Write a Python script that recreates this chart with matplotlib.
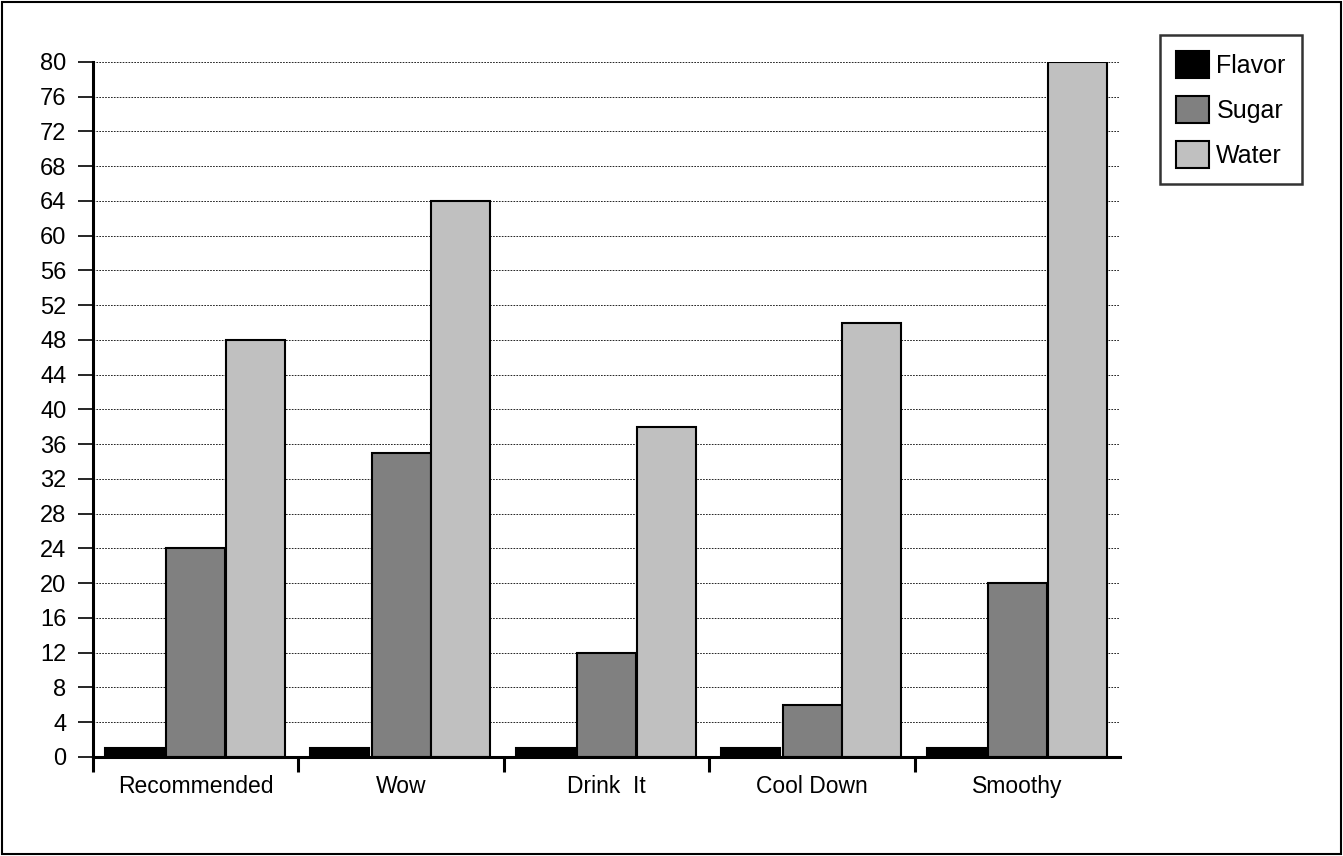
import numpy as np
import matplotlib.pyplot as plt
from matplotlib.patches import Rectangle

# data
categories = ["Recommended", "Wow", "Drink  It", "Cool Down", "Smoothy"]
flavor = [1, 1, 1, 1, 1]
sugar = [24, 35, 12, 6, 20]
water = [48, 64, 38, 50, 80]
series_names = ["Flavor", "Sugar", "Water"]
series_colors = ["#000000", "#808080", "#c0c0c0"]
y_ticks = list(range(0, 81, 4))

plt.rcParams['font.family'] = ['Liberation Sans', 'DejaVu Sans']

fig = plt.figure(figsize=(13.43, 8.56), dpi=100)
fig.patches.append(Rectangle((0.0015, 0.002), 0.997, 0.996, transform=fig.transFigure,
                             fill=False, edgecolor='black', linewidth=1.5))
ax = fig.add_axes([0.0692, 0.1157, 0.7648, 0.8119])

x = np.arange(len(categories))
width = 0.287
offsets = [0.058, 0.358, 0.647]
for k, (vals, name, col) in enumerate(zip([flavor, sugar, water], series_names, series_colors)):
    ax.bar(x + offsets[k], vals, width=width, align='edge', color=col,
           edgecolor='black', linewidth=1.5, label=name, zorder=3)

ax.set_xlim(0, len(categories))
ax.set_ylim(0, 80)
ax.set_yticks(y_ticks)
ax.set_yticklabels([str(v) for v in y_ticks], fontsize=17)
ax.set_xticks(np.arange(len(categories)))
ax.set_xticklabels([])
ax.set_xticks(x + 0.5, minor=True)
ax.set_xticklabels(categories, minor=True, fontsize=16.5)
ax.tick_params(axis='x', which='minor', length=0, pad=13)
ax.tick_params(axis='x', which='major', direction='out', length=11, width=2.2)
ax.tick_params(axis='y', direction='out', length=11, width=1.2, pad=8)

ax.grid(axis='y', color='black', linestyle=(0, (2, 1.5)), linewidth=0.6, zorder=0)
for s in ['top', 'right']:
    ax.spines[s].set_visible(False)
for s in ['left', 'bottom']:
    ax.spines[s].set_linewidth(2.2)
    ax.spines[s].set_zorder(4)

leg = ax.legend(loc='upper left', bbox_to_anchor=(1.039, 1.039), fontsize=18,
                frameon=True, fancybox=False, edgecolor='black',
                handlelength=1.3, handleheight=1.3, handletextpad=0.3,
                labelspacing=0.7, borderpad=0.65, borderaxespad=0)
leg.get_frame().set_linewidth(1.8)

fig.savefig("out.png", dpi=100)
